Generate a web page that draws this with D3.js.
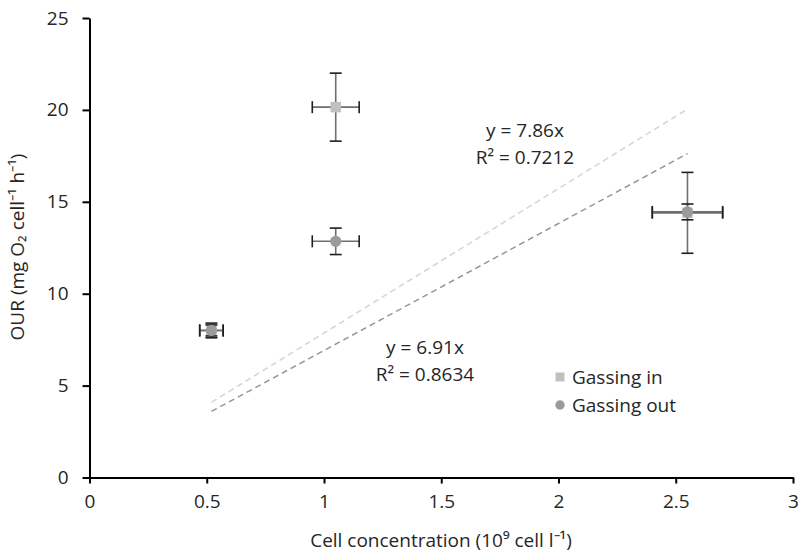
<!DOCTYPE html>
<html>
<head>
<meta charset="utf-8">
<script src="https://cdn.jsdelivr.net/npm/d3@7"></script>
<style>
  html, body { margin: 0; padding: 0; background: #fff; }
  svg text { font-family: "Open Sans", sans-serif; fill: #262626; }
</style>
</head>
<body>
<svg id="chart" width="799" height="552"></svg>
<script>
// Cell concentration (10^9 cell/l) for each culture
const concentration = [0.52, 1.05, 2.55];
const concErr = [0.05, 0.1, 0.15];

// Oxygen uptake rate, gassing in
const gassingIn = [8.0, 20.15, 14.4];
const gassingInErr = [0.4, 1.85, 2.2];

// Oxygen uptake rate, gassing out
const gassingOut = [8.0, 12.85, 14.45];
const gassingOutErr = [0.3, 0.72, 0.43];

// Linear fits through the origin
const slopeIn = 7.86, r2In = 0.7212;
const slopeOut = 6.91, r2Out = 0.8634;

const xTicks = [0, 0.5, 1, 1.5, 2, 2.5, 3];
const yTicks = [0, 5, 10, 15, 20, 25];

const FONT = 19;
const svg = d3.select("#chart");
const x = d3.scaleLinear().domain([0, 3]).range([89.5, 793]);
const y = d3.scaleLinear().domain([0, 25]).range([477.5, 18]);

// Trend lines (drawn beneath markers)
const x0 = d3.min(concentration), x1 = d3.max(concentration);
const trends = [
  { slope: slopeIn, color: "#d4d4d4" },
  { slope: slopeOut, color: "#969696" }
];
svg.append("g").selectAll("line").data(trends).join("line")
  .attr("x1", x(x0)).attr("x2", x(x1))
  .attr("y1", d => y(d.slope * x0)).attr("y2", d => y(d.slope * x1))
  .attr("stroke", d => d.color).attr("stroke-width", 1.5)
  .attr("stroke-dasharray", "6,4");

// Axes
const xAxis = svg.append("g").attr("transform", `translate(0,${y(0)})`)
  .call(d3.axisBottom(x).tickValues(xTicks).tickFormat(d3.format("~g")).tickSizeInner(6).tickSizeOuter(0).tickPadding(11));
const yAxis = svg.append("g").attr("transform", `translate(${x(0)},0)`)
  .call(d3.axisLeft(y).tickValues(yTicks).tickSizeInner(7).tickSizeOuter(0).tickPadding(14));
[xAxis, yAxis].forEach(g => {
  g.select(".domain").attr("stroke", "#000").attr("stroke-width", 2);
  g.selectAll(".tick line").attr("stroke", "#000").attr("stroke-width", 2);
  g.selectAll(".tick text").attr("font-size", FONT).attr("fill", "#262626")
    .attr("font-family", "'Open Sans', sans-serif");
});

// Error bars and markers for each series
function drawSeries(values, errs, color, shape) {
  const pts = concentration.map((c, i) => ({ cx: c, cy: values[i], ex: concErr[i], ey: errs[i] }));
  const g = svg.append("g");
  const cap = 6;
  pts.forEach(p => {
    // vertical
    g.append("line").attr("x1", x(p.cx)).attr("x2", x(p.cx))
      .attr("y1", y(p.cy - p.ey)).attr("y2", y(p.cy + p.ey))
      .attr("stroke", "#6e6e6e").attr("stroke-width", 1.6);
    [p.cy - p.ey, p.cy + p.ey].forEach(v => g.append("line")
      .attr("x1", x(p.cx) - cap).attr("x2", x(p.cx) + cap)
      .attr("y1", y(v)).attr("y2", y(v))
      .attr("stroke", "#1e1e1e").attr("stroke-width", 1.6));
    // horizontal
    g.append("line").attr("x1", x(p.cx - p.ex)).attr("x2", x(p.cx + p.ex))
      .attr("y1", y(p.cy)).attr("y2", y(p.cy))
      .attr("stroke", "#6e6e6e").attr("stroke-width", 1.6);
    [p.cx - p.ex, p.cx + p.ex].forEach(v => g.append("line")
      .attr("x1", x(v)).attr("x2", x(v))
      .attr("y1", y(p.cy) - cap).attr("y2", y(p.cy) + cap)
      .attr("stroke", "#1e1e1e").attr("stroke-width", 1.6));
  });
  const sym = d3.symbol().type(shape).size(shape === d3.symbolSquare ? 110 : 100);
  g.selectAll("path.mark").data(pts).join("path").attr("class", "mark")
    .attr("transform", d => `translate(${x(d.cx)},${y(d.cy)})`)
    .attr("d", sym).attr("fill", color);
}
drawSeries(gassingIn, gassingInErr, "#c0c0c0", d3.symbolSquare);
drawSeries(gassingOut, gassingOutErr, "#9b9b9b", d3.symbolCircle);

// Trend line equations
const eq = [
  { lines: [`y = ${slopeIn}x`, `R² = ${r2In}`], cx: 525, cy: 137 },
  { lines: [`y = ${slopeOut}x`, `R² = ${r2Out}`], cx: 425, cy: 354 }
];
eq.forEach(e => {
  e.lines.forEach((t, i) => svg.append("text")
    .attr("x", e.cx).attr("y", e.cy + i * 27)
    .attr("text-anchor", "middle").attr("font-size", FONT).text(t));
});

// Legend
const legend = [
  { label: "Gassing in", color: "#c0c0c0", shape: d3.symbolSquare },
  { label: "Gassing out", color: "#9b9b9b", shape: d3.symbolCircle }
];
legend.forEach((l, i) => {
  const ly = 377 + i * 28;
  svg.append("path").attr("transform", `translate(560,${ly})`)
    .attr("d", d3.symbol().type(l.shape).size(l.shape === d3.symbolSquare ? 80 : 70)).attr("fill", l.color);
  svg.append("text").attr("x", 572).attr("y", ly + 7).attr("font-size", FONT).text(l.label);
});

// Axis titles
svg.append("text").attr("x", 441).attr("y", 547).attr("text-anchor", "middle")
  .attr("font-size", FONT).text("Cell concentration (10⁹ cell l⁻¹)");
svg.append("text").attr("transform", "translate(24,247) rotate(-90)")
  .attr("text-anchor", "middle").attr("font-size", FONT).text("OUR (mg O₂ cell⁻¹ h⁻¹)");
</script>
</body>
</html>
